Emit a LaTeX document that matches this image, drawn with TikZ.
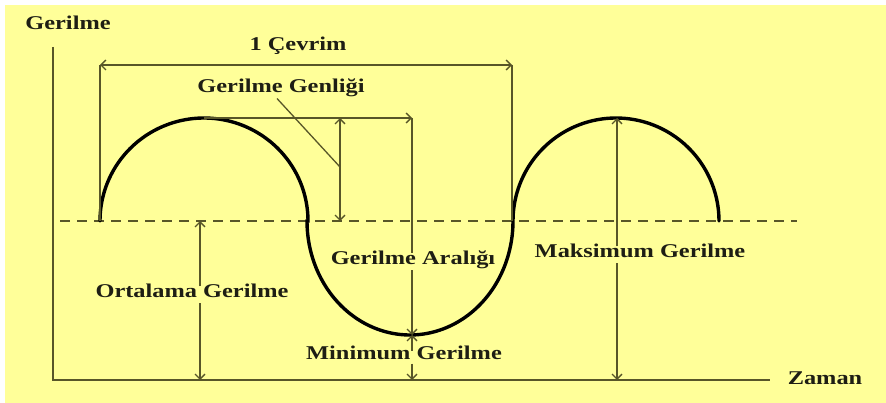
\documentclass[tikz,border=0pt]{standalone}
\usepackage{fontspec}
\setmainfont{Liberation Serif}[FakeStretch=1.25]
\usetikzlibrary{arrows.meta,calc}
\definecolor{bgy}{RGB}{255,255,153}
\definecolor{dimc}{RGB}{88,86,40}
\definecolor{ink}{RGB}{30,30,20}
\begin{document}
\begin{tikzpicture}[x=1pt,y=-1pt,
  dimline/.style={draw=dimc,line width=1.3pt},
  axisline/.style={draw=dimc,line width=2pt},
  curveline/.style={draw=black,line width=3.4pt},
  endtip/.style={-{Straight Barb[length=5pt,width=10pt]}},
  bothtip/.style={{Straight Barb[length=5pt,width=10pt]}-{Straight Barb[length=5pt,width=10pt]}},
  lbl/.style={font=\fontsize{19.5}{22}\selectfont\bfseries,text=ink,inner xsep=2pt,inner ysep=4pt,text height=0.68em,text depth=0.18em}
]
\useasboundingbox (0,0) rectangle (886,403);
\fill[white] (0,0) rectangle (886,403);
\fill[bgy] (5,5) rectangle (886,403);

% axes
\coordinate (O) at (53,380);
\coordinate (Ytop) at (53,47);
\coordinate (Xend) at (770,380);
\draw[axisline] (Ytop) -- (O) -- (Xend);
\node[lbl] (ylab) at (68,27) {Gerilme};
\node[lbl] (xlab) at (825,382) {Zaman};

% mean dashed line
\coordinate (dL) at (60,221);
\coordinate (dR) at (797,221);
\draw[dimline,dash pattern=on 10pt off 7pt] (dL) -- (dR);

% curve
\draw[curveline,line cap=round]
  plot[domain=180:0,samples=60,smooth] ({204+104*cos(\x)},{221-103*sin(\x)})
  -- plot[domain=180:360,samples=60,smooth] ({410+103*cos(\x)},{221-114*sin(\x)})
  -- plot[domain=180:0,samples=60,smooth] ({616+103*cos(\x)},{221-103*sin(\x)});

% 1 cycle
\coordinate (cycL) at (100,65);
\coordinate (cycR) at (512,65);
\coordinate (startP) at (100,221);
\coordinate (cross2) at (512,221);
\draw[dimline] (cycL) -- (startP);
\draw[dimline] (cycR) -- (cross2);
\draw[dimline,bothtip] (cycL) -- (cycR);
\node[lbl] (lblCyc) at (298,48) {1 Çevrim};

% amplitude
\coordinate (ampT) at (340,118);
\coordinate (ampB) at (340,221);
\coordinate (leadE) at (340,167);
\draw[dimline,bothtip] (ampT) -- (ampB);
\node[lbl] (lblGen) at (281,90) {Gerilme Genliği};
\draw[dimline] ($(lblGen.south)+(-4,0)$) -- (leadE);

% range
\coordinate (peak1) at (204,118);
\coordinate (rngT) at (412,118);
\coordinate (minP) at (412,335);
\coordinate (minAx) at (412,380);
\draw[dimline,endtip] (peak1) -- (rngT);
\node[lbl] (lblRng) at (413,262) {Gerilme Aralığı};
\draw[dimline] (rngT) -- (rngT |- lblRng.north);
\draw[dimline,endtip] (rngT |- lblRng.south) -- (minP);

% minimum
\node[lbl,inner ysep=2pt] (lblMin) at (404,357) {Minimum Gerilme};
\draw[dimline,endtip] (minP |- lblMin.north) -- (minP);
\draw[dimline,endtip] (minP |- lblMin.south) -- (minAx);

% mean
\coordinate (ortT) at (200,221);
\coordinate (ortB) at (200,380);
\node[lbl] (lblOrt) at (192,295) {Ortalama Gerilme};
\draw[dimline,endtip] (ortT |- lblOrt.north) -- (ortT);
\draw[dimline,endtip] (ortT |- lblOrt.south) -- (ortB);

% maximum
\coordinate (mxT) at (617,118);
\coordinate (mxB) at (617,380);
\node[lbl] (lblMax) at (640,255) {Maksimum Gerilme};
\draw[dimline,endtip] (mxT |- lblMax.north) -- (mxT);
\draw[dimline,endtip] (mxT |- lblMax.south) -- (mxB);
\end{tikzpicture}
\end{document}
